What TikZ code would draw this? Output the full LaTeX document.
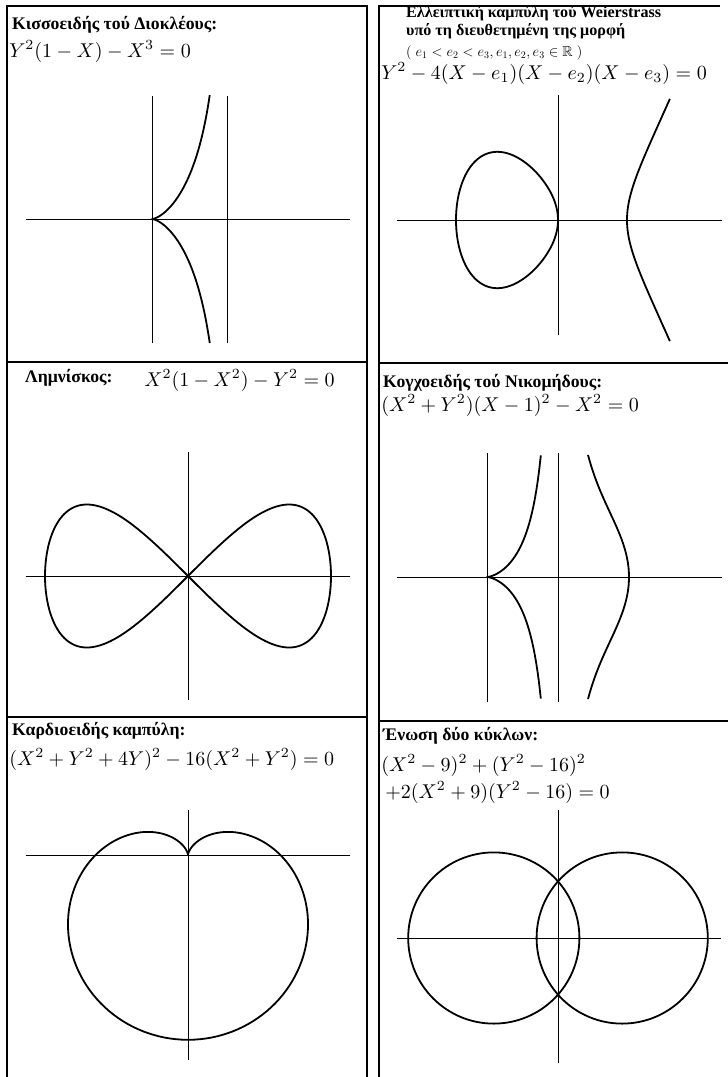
\documentclass[tikz,border=0pt]{standalone}
\usepackage[no-math]{fontspec}
\usepackage{amsmath,amssymb}
\newfontfamily\grfont{Liberation Serif}
\tikzset{
  frame/.style ={line width=1.8pt},
  axis/.style  ={line width=0.9pt},
  curve/.style ={line width=1.8pt, line join=round},
  ttl/.style   ={anchor=base west, inner sep=0pt,
                 font=\grfont\bfseries\fontsize{17.7}{21}\selectfont},
  ttls/.style  ={ttl, font=\grfont\bfseries\fontsize{16.1}{19}\selectfont},
  eqn/.style   ={anchor=base west, inner sep=0pt, scale=2.0, transform shape},
  cond/.style  ={anchor=base west, inner sep=0pt, font=\fontsize{14.4}{17}\selectfont},
}

\begin{document}
\begin{tikzpicture}[x=1pt,y=-1pt]
  \useasboundingbox (0,0) rectangle (728,1077);

  % ---- frames ----
  \draw[frame] (7,1077) -- (7,6) -- (367,6) -- (367,1077);
  \draw[frame] (7,362) -- (367,362);
  \draw[frame] (7,717) -- (367,717);
  \draw[frame] (379,1077) -- (379,6) -- (720,6);
  \draw[frame] (379,363) -- (728,363);
  \draw[frame] (379,721) -- (728,721);

  % ---- cissoid ----
  \node[ttl] (ttlcis) at (12,29) {Κισσοειδής τού Διοκλέους:};
  \node[eqn] (eqcis) at (9,57) {$Y^2(1-X)-X^3=0$};
  \draw[axis] (26,219) -- (350,219);
  \draw[axis] (152,96) -- (152,343);
  \draw[axis] (227,96) -- (227,343);
  \begin{scope}[shift={(152,219)}, x=75pt, y=88pt]
    \draw[curve] plot[domain=-1.83:1.83, samples=121]
      ({\x*\x/(1+\x*\x)}, {\x*\x*\x/(1+\x*\x)});
  \end{scope}

  % ---- weierstrass ----
  \node[ttls] (ttlwei) at (406,17) {Ελλειπτική καμπύλη τού Weierstrass};
  \node[ttls] (ttlwei2) at (406,35) {υπό τη διευθετημένη της μορφή};
  \node[cond] (condwei) at (406,56) {$(\;e_1<e_2<e_3,e_1,e_2,e_3\in\mathbb{R}\;)$};
  \node[eqn] (eqwei) at (381,79) {$Y^2-4(X-e_1)(X-e_2)(X-e_3)=0$};
  \draw[axis] (397,220) -- (722,220);
  \draw[axis] (558,95) -- (558,335);
  \begin{scope}[shift={(558,220)}, x=1pt, y=1pt]
    \draw[curve] plot[domain=0:180, samples=181]
      ({-102*cos(\x)*cos(\x)}, {102*sin(\x)*cos(\x)*sqrt(0.0143*(69+102*cos(\x)*cos(\x)))}) -- cycle;
    \draw[curve] plot[domain=-6.55:6.55, samples=121]
      ({69+\x*\x}, {\x*sqrt(0.0143*(171+\x*\x)*(69+\x*\x))});
  \end{scope}

  % ---- lemniscate ----
  \node[ttl] (ttllem) at (25,382) {Λημνίσκος:};
  \node[eqn] (eqlem) at (144,386) {$X^2(1-X^2)-Y^2=0$};
  \draw[axis] (26,576) -- (350,576);
  \draw[axis] (188,452) -- (188,700);
  \begin{scope}[shift={(188,576)}, x=143pt, y=143pt]
    \draw[curve] plot[domain=0:360, samples=241]
      ({sin(\x)}, {sin(\x)*cos(\x)}) -- cycle;
  \end{scope}

  % ---- conchoid ----
  \node[ttl] (ttlcon) at (383,387) {Κογχοειδής τού Νικομήδους:};
  \node[eqn] (eqcon) at (381,411) {$(X^2+Y^2)(X-1)^2-X^2=0$};
  \draw[axis] (397,577) -- (722,577);
  \draw[axis] (487,453) -- (487,702);
  \draw[axis] (558,453) -- (558,702);
  \begin{scope}[shift={(487,577)}, x=71pt, y=40pt]
    \draw[curve] plot[domain=-76:76, samples=121]
      ({1-cos(\x)}, {tan(\x)-sin(\x)});
    \draw[curve] plot[domain=-65:65, samples=121]
      ({1+cos(\x)}, {tan(\x)+sin(\x)});
  \end{scope}

  % ---- cardioid ----
  \node[ttl] (ttlcar) at (12,735) {Καρδιοειδής καμπύλη:};
  \node[eqn] (eqcar) at (9,765) {$(X^2+Y^2+4Y)^2-16(X^2+Y^2)=0$};
  \draw[axis] (26,855) -- (350,855);
  \draw[axis] (188,810) -- (188,1060);
  \begin{scope}[shift={(188,855)}, x=23.1pt, y=23.1pt]
    \draw[curve] plot[domain=-270:90, samples=201]
      ({4*(1-sin(\x))*cos(\x)}, {4*(1-sin(\x))*sin(\x)});
  \end{scope}

  % ---- two circles ----
  \node[ttl] (ttlcir) at (383,740) {Ένωση δύο κύκλων:};
  \node[eqn] (eqcir) at (381,771) {$(X^2-9)^2+(Y^2-16)^2$};
  \node[eqn] (eqcir2) at (385,798) {$+2(X^2+9)(Y^2-16)=0$};
  \draw[axis] (397,938) -- (721,938);
  \draw[axis] (558,810) -- (558,1063);
  \begin{scope}[shift={(558,938)}, x=21.4pt, y=21.4pt]
    \draw[curve] (-3,0) circle[radius=4];
    \draw[curve] (3,0) circle[radius=4];
  \end{scope}

\end{tikzpicture}
\end{document}
